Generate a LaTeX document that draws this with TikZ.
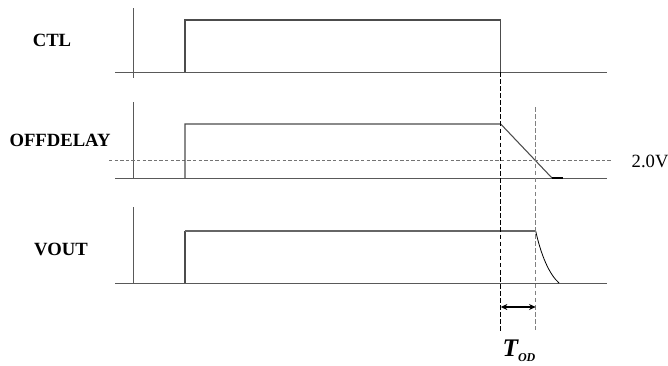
\documentclass[tikz,border=0pt]{standalone}
\usepackage{fontspec}
\setmainfont{Liberation Serif}
\usetikzlibrary{arrows.meta}
\begin{document}
\begin{tikzpicture}[x=0.75pt,y=-0.75pt,
    wave/.style={draw=black!70, line width=0.8pt},
    axis/.style={draw=black!65, line width=0.7pt},
    signame/.style={font=\fontsize{14}{16}\selectfont\bfseries},
    level/.style={draw=black!55, line width=0.7pt, dash pattern=on 2.6pt off 1.6pt}]
    \useasboundingbox (0,0) rectangle (668,365);

    % the signal names
    \node[signame] (ctl) at (52,40) {CTL};
    \node[signame] (offd) at (60,140) {OFFDELAY};
    \node[signame] (vout) at (61,249) {VOUT};
    \node[anchor=west, font=\fontsize{14}{16}\selectfont] (vth) at (627,161) {2.0V};

    % the axes
    \draw[axis] (133,8) -- (133,78);
    \draw[axis] (115,72) -- (607,72);
    \draw[axis] (133,102) -- (133,179);
    \draw[axis] (115,178) -- (607,178);
    \draw[axis] (133,207) -- (133,284);
    \draw[axis] (115,283) -- (607,283);

    % threshold at 2.0V
    \draw[level] (109,160) -- (612,160);

    % the waveforms
    \draw[wave] (185,72) -- (185,20) -- (500.7,20) -- (500.7,72);
    \draw[wave] (185,178) -- (185,124) -- (500.7,124) -- (552,178);
    \draw[line width=1.6pt] (552,178) -- (563,178);
    \draw[wave] (185,283) -- (185,231);
    \draw[black!60, line width=1.3pt] (185,231) -- (535.7,231);
    \draw[black, line width=0.6pt] (535.7,231) .. controls (541,255) and (549,274) .. (559,283);

    % the delay markers
    \coordinate (toff) at (500.7,72);
    \coordinate (tend) at (500.7,333);
    \coordinate (tcross) at (535.7,107);
    \coordinate (tcrossend) at (535.7,330);
    \draw[black, line width=1pt, dash pattern=on 3.5pt off 1.8pt] (toff) -- (tend);
    \draw[black!50, line width=0.9pt, dash pattern=on 3.5pt off 1.8pt] (tcross) -- (tcrossend);

    % the delay arrow and its name
    \coordinate (ta) at (500.7,307);
    \coordinate (tb) at (535.7,307);
    \draw[{Stealth[length=5pt,width=4.5pt]}-{Stealth[length=5pt,width=4.5pt]}, line width=0.8pt] (ta) -- (tb);
    \node[font=\fontsize{19}{20}\selectfont\bfseries\itshape, inner sep=0pt] (tod) at (519,351)
        {T\raisebox{-4pt}{\fontsize{9}{9}\selectfont OD}};
\end{tikzpicture}
\end{document}
